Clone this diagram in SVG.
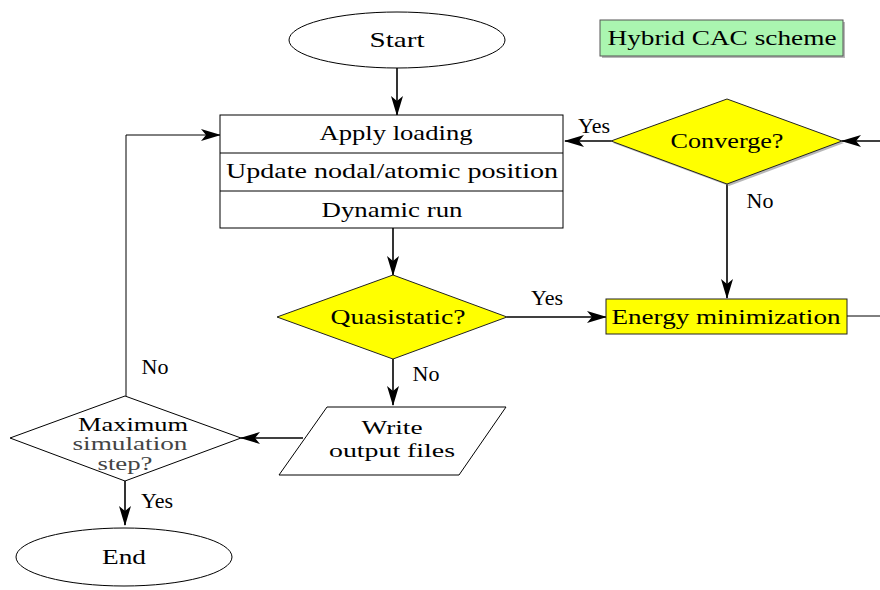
<svg xmlns="http://www.w3.org/2000/svg" width="880" height="590" viewBox="0 0 880 590">
<style>
text{font-family:"Liberation Serif","Times New Roman",serif;font-size:22px;fill:#000;text-anchor:middle}
.sm{font-size:19px}
.sh{stroke:none;fill:#888;opacity:0.6}
.n{stroke:#000;stroke-width:1;fill:#fff}
.y{stroke:#222;stroke-width:1;fill:#ffff00}
.c{stroke:#000;stroke-width:1.6;fill:none}
.c1{stroke:#000;stroke-width:1;fill:none}
</style>
<defs>
<marker id="ah" viewBox="0 0 20 12" refX="19" refY="6" markerWidth="20" markerHeight="12" markerUnits="userSpaceOnUse" orient="auto">
<path d="M0,0 L20,6 L0,12 L5,6 Z" fill="#000"/>
</marker>
</defs>
<rect width="880" height="590" fill="#fff"/>

<g id="connectors">
<line class="c" x1="397" y1="68" x2="397" y2="115" marker-end="url(#ah)"/>
<line class="c" x1="393" y1="228" x2="393" y2="275" marker-end="url(#ah)"/>
<line class="c" x1="507" y1="317" x2="606" y2="317" marker-end="url(#ah)"/>
<line class="c" x1="880" y1="141" x2="842" y2="141" marker-end="url(#ah)"/>
<line class="c" x1="611" y1="141" x2="565" y2="141" marker-end="url(#ah)"/>
<line class="c" x1="727" y1="184" x2="727" y2="298" marker-end="url(#ah)"/>
<line class="c1" x1="847" y1="316" x2="880" y2="316"/>
<line class="c" x1="393" y1="359" x2="393" y2="405" marker-end="url(#ah)"/>
<line class="c" x1="303" y1="438" x2="241" y2="438" marker-end="url(#ah)"/>
<line class="c" x1="125" y1="481" x2="125" y2="525" marker-end="url(#ah)"/>
<polyline class="c1" points="126,396 126,135 220,135" marker-end="url(#ah)"/>
<text x="547" y="305">Yes</text>
<text x="594" y="133">Yes</text>
<text x="760" y="208">No</text>
<text x="426" y="381">No</text>
<text x="155" y="374">No</text>
<text x="157" y="508">Yes</text>
</g>

<g id="start">
<ellipse class="n" cx="397" cy="40" rx="108" ry="28"/>
<text x="397" y="47" textLength="55" lengthAdjust="spacingAndGlyphs">Start</text>
</g>

<g id="title">
<rect class="sh" x="602" y="22" width="243" height="36"/>
<rect x="600" y="20" width="243" height="36" fill="#aaf5b0" stroke="#555" stroke-width="1"/>
<text x="722" y="45" textLength="229" lengthAdjust="spacingAndGlyphs">Hybrid CAC scheme</text>
</g>

<g id="process">
<rect class="n" x="220" y="115" width="343" height="113"/>
<line class="c1" x1="220" y1="153" x2="563" y2="153"/>
<line class="c1" x1="220" y1="191" x2="563" y2="191"/>
<text x="396" y="140" textLength="153" lengthAdjust="spacingAndGlyphs">Apply loading</text>
<text x="392" y="178" textLength="332" lengthAdjust="spacingAndGlyphs">Update nodal/atomic position</text>
<text x="392" y="217" textLength="141" lengthAdjust="spacingAndGlyphs">Dynamic run</text>
</g>

<g id="converge">
<polygon class="sh" points="729,101 844,143 729,186 613,143"/>
<polygon class="y" points="727,99 842,141 727,184 611,141"/>
<text x="727" y="148" textLength="113" lengthAdjust="spacingAndGlyphs">Converge?</text>
</g>

<g id="quasistatic">
<polygon class="y" points="393,275 507,317 393,359 277,317"/>
<text x="398" y="324" textLength="135" lengthAdjust="spacingAndGlyphs">Quasistatic?</text>
</g>

<g id="energy">
<rect class="y" x="606" y="299" width="241" height="35"/>
<text x="726" y="324" textLength="229" lengthAdjust="spacingAndGlyphs">Energy minimization</text>
</g>

<g id="write">
<polygon class="n" points="327,407 506,407 459,475 279,475"/>
<text class="sm" x="392" y="434" textLength="61" lengthAdjust="spacingAndGlyphs">Write</text>
<text class="sm" x="392" y="457" textLength="126" lengthAdjust="spacingAndGlyphs">output files</text>
</g>

<g id="maxstep">
<polygon class="n" points="125,396 241,438 125,481 10,438"/>
<text class="sm" x="133" y="431" textLength="110" lengthAdjust="spacingAndGlyphs">Maximum</text>
<text class="sm" x="130" y="450" style="fill:#444" textLength="115" lengthAdjust="spacingAndGlyphs">simulation</text>
<text class="sm" x="125" y="470" style="fill:#444" textLength="55" lengthAdjust="spacingAndGlyphs">step?</text>
</g>

<g id="end">
<ellipse class="n" cx="124" cy="557" rx="108" ry="29"/>
<text x="124" y="564" textLength="44" lengthAdjust="spacingAndGlyphs">End</text>
</g>
</svg>
